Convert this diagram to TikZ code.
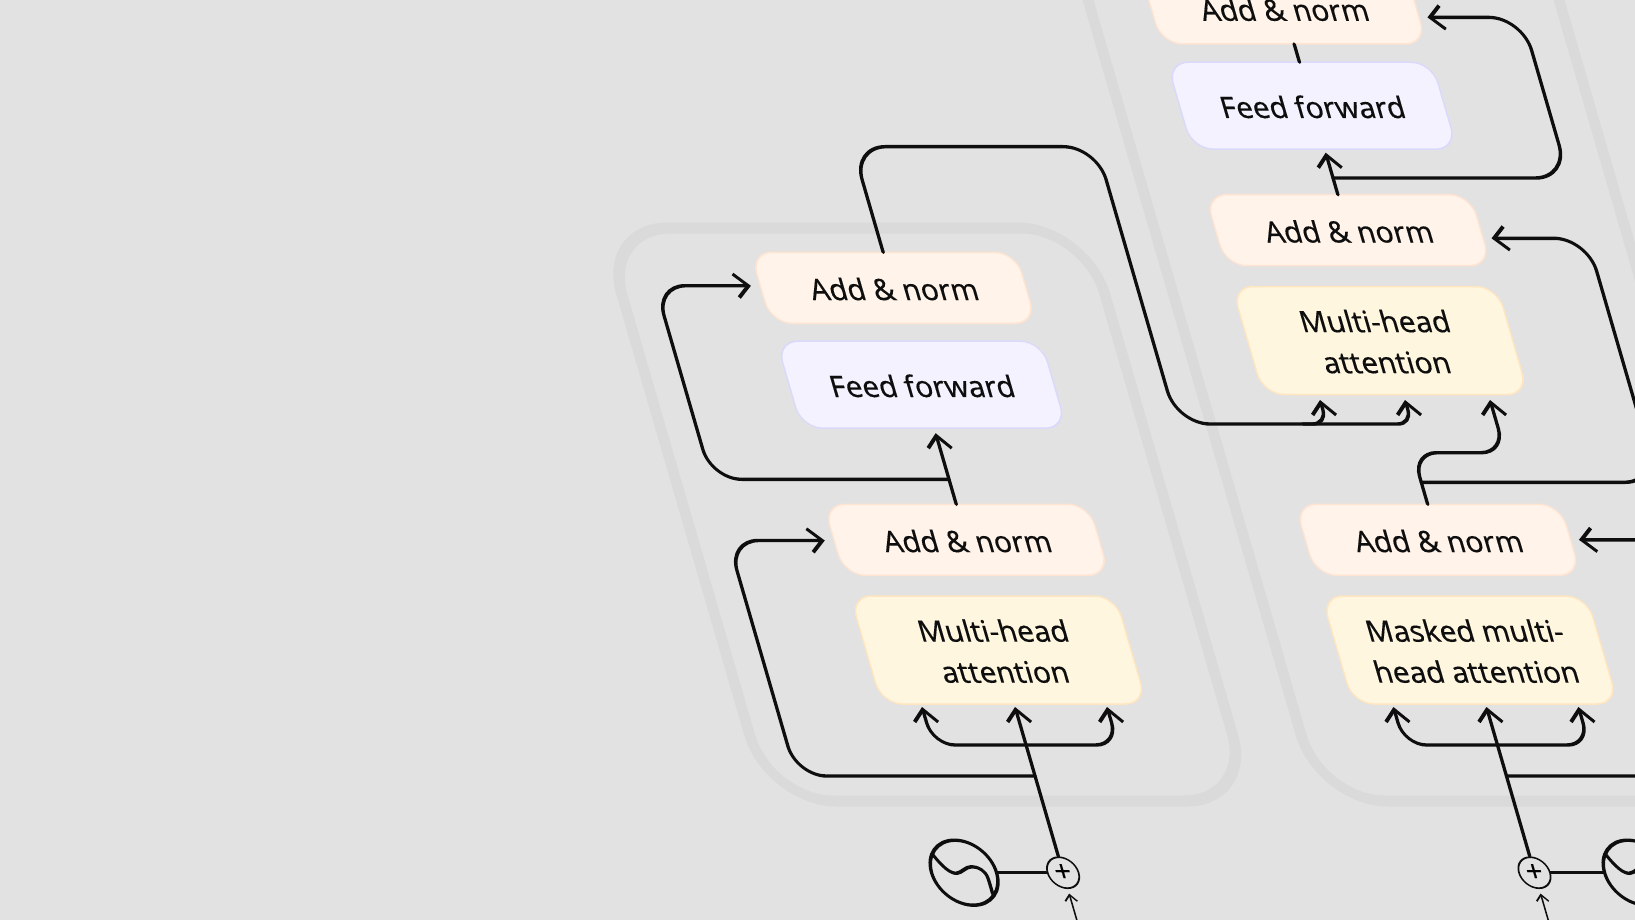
\documentclass[tikz,border=0pt]{standalone}
\usepackage{fontspec}
\setmainfont{Noto Sans}[FakeBold=0.25]
\usetikzlibrary{arrows.meta}

\definecolor{paper}{HTML}{E2E2E2}
\definecolor{frameband}{HTML}{DADADA}
\definecolor{ink}{HTML}{0E0E0E}
\definecolor{addfill}{HTML}{FFF3EA}
\definecolor{addline}{HTML}{FFE4D2}
\definecolor{feedfill}{HTML}{F4F2FF}
\definecolor{feedline}{HTML}{D9DAFB}
\definecolor{attnfill}{HTML}{FFF6E0}
\definecolor{attnline}{HTML}{FFE6C0}

\begin{document}
\begin{tikzpicture}[x=1pt, y=1pt, font=\fontsize{29.5}{41}\selectfont,
    >={Straight Barb[length=12.5pt,width=23.5pt]},
    block/.style={rounded corners=21pt, line width=1.5pt, inner sep=0pt, outer sep=0pt, align=center, text=ink, minimum width=265pt, text depth=0pt},
    addbox/.style={block, draw=addline, fill=addfill, minimum height=71pt, text height=24.6pt},
    feedbox/.style={block, draw=feedline, fill=feedfill, minimum height=87pt, text height=24.6pt},
    attnbox/.style={block, draw=attnline, fill=attnfill, minimum height=108pt, text height=65.4pt},
    frameblock/.style={draw=frameband, line width=11pt, rounded corners=66pt, inner sep=0pt},
    wire/.style={draw=ink, line width=3.4pt, line cap=round, line join=round},
    link/.style={wire, ->},
    fork/.style={wire, <->, rounded corners=22pt},
    wave/.style={draw=ink, line width=3.4pt, circle, minimum size=65pt, inner sep=0pt},
    plusnode/.style={draw=ink, line width=1.7pt, circle, minimum size=31pt, inner sep=0pt, font=\fontsize{29}{29}\selectfont},
    feedin/.style={draw=ink, line width=1.6pt, -{Straight Barb[length=6.5pt,width=12pt]}}]

  \useasboundingbox (0,0) rectangle (1635,-920);
  \clip (0,0) rectangle (1635,-920);
  \fill[paper] (0,0) rectangle (1635,-920);

  \begin{scope}[transform canvas={cm={1,0,-0.29,1,(0,0)}}]

  % ---------- outer frames ----------
  \node[frameblock, minimum width=483pt, minimum height=573pt] (encFrame) at (778,-514.5) {};
  \node[frameblock, minimum width=471pt, minimum height=901pt] (decFrame) at (1323.5,-350.5) {};

  % ---------- encoder blocks ----------
  \node[attnbox] (mhE)   at (810,-650)   {Multi-head\\attention};
  \node[addbox]  (addE1) at (810,-539.8) {Add \& norm};
  \node[feedbox] (ffE)   at (810,-384.7) {Feed forward};
  \node[addbox]  (addE2) at (810,-287.8) {Add \& norm};

  % ---------- decoder blocks ----------
  \node[attnbox] (mskD)  at (1281.4,-650)   {Masked multi-\\head attention};
  \node[addbox]  (addD1) at (1281.4,-539.8) {Add \& norm};
  \node[attnbox] (mhD)   at (1281.4,-340.5) {Multi-head\\attention};
  \node[addbox]  (addD2) at (1281.4,-230.2) {Add \& norm};
  \node[feedbox] (ffD)   at (1281.4,-105.7) {Feed forward};
  \node[addbox]  (addD3) at (1281.4,-8.5)   {Add \& norm};

  % ---------- positional inputs ----------
  \node[plusnode] (plusE) at (810,-872.7)    {+};
  \node[wave]     (sineE) at (711,-872.7)    {};
  \node[plusnode] (plusD) at (1281.4,-872.7) {+};
  \node[wave]     (sineD) at (1384,-872.7)   {};
  \foreach \curve in {sineE,sineD}
    \draw[wire, line cap=butt, shift={(\curve)}] (-26,18) .. controls (-20,6) and (-14,-1) .. (-7.6,-0.6)
      .. controls (-2,0) and (3,6) .. (9.4,6) .. controls (16,6) and (22,2) .. (22.3,-5.6)
      .. controls (22.6,-11) and (22.5,-18) .. (22.4,-22);
  \draw[wire] (sineE) -- (plusE);
  \draw[wire] (plusD) -- (sineD);
  \coordinate (inE) at (810,-960);
  \coordinate (inD) at (1281.4,-960);
  \draw[feedin] (inE) -- ([yshift=-4.5pt]plusE.south);
  \draw[feedin] (inD) -- ([yshift=-4.5pt]plusD.south);

  % ---------- encoder wiring ----------
  \coordinate (tapE1) at (810,-776);
  \coordinate (tapE2) at (810,-479.3);
  \draw[link] (plusE) -- ([yshift=-3pt]mhE.south);
  \draw[fork] ([xshift=-93pt,yshift=-3pt]mhE.south) -- ++(0,-38) -- ++(185,0) -- ([xshift=92pt,yshift=-3pt]mhE.south);
  \draw[link, rounded corners=30pt] (tapE1) -- (571.5,-776) -- (571.5,-540.5) -- ([xshift=-9.5pt,yshift=-0.7pt]addE1.west);
  \draw[link] (addE1.north) -- ([yshift=-5pt]ffE.south);
  \draw[link, rounded corners=30pt] (tapE2) -- (572.5,-479.3) -- (572.5,-285.7) -- ([xshift=-9.5pt,yshift=2pt]addE2.west);
  \draw[link, rounded corners=33pt] (addE2.north) -- (810,-146.7) -- (1054,-146.7) -- (1054,-424)
    [rounded corners=14pt] -- (1289,-424) -- (1289,-400);
  \draw[link, rounded corners=14pt] (1180,-424) -- (1204,-424) -- (1204,-400);

  % ---------- decoder wiring ----------
  \coordinate (tapD1) at (1281.4,-776);
  \coordinate (tapD2) at (1281.4,-482.3);
  \coordinate (tapD3) at (1281.4,-178);
  \draw[link] (plusD) -- ([yshift=-3pt]mskD.south);
  \draw[fork] ([xshift=-93pt,yshift=-3pt]mskD.south) -- ++(0,-38) -- ++(185,0) -- ([xshift=92pt,yshift=-3pt]mskD.south);
  \draw[link, rounded corners=30pt] (tapD1) -- (1520,-776) -- (1520,-540) -- ([xshift=8.5pt]addD1.east);
  \draw[link, rounded corners=24pt] (addD1.north) -- (1281.4,-452.7) -- (1374,-452.7) -- (1374,-400);
  \draw[link, rounded corners=33pt] (tapD2) -- (1518,-482.3) -- (1518,-238.3) -- ([xshift=8.5pt,yshift=-8.1pt]addD2.east);
  \draw[link] (addD2.north) -- ([yshift=-3.5pt]ffD.south);
  \draw[link, rounded corners=33pt] (tapD3) -- (1517,-178) -- (1517,-17.4) -- ([xshift=8.5pt,yshift=-8.9pt]addD3.east);
  \draw[wire] (ffD.north) -- (addD3.south);

  \end{scope}
\end{tikzpicture}
\end{document}
